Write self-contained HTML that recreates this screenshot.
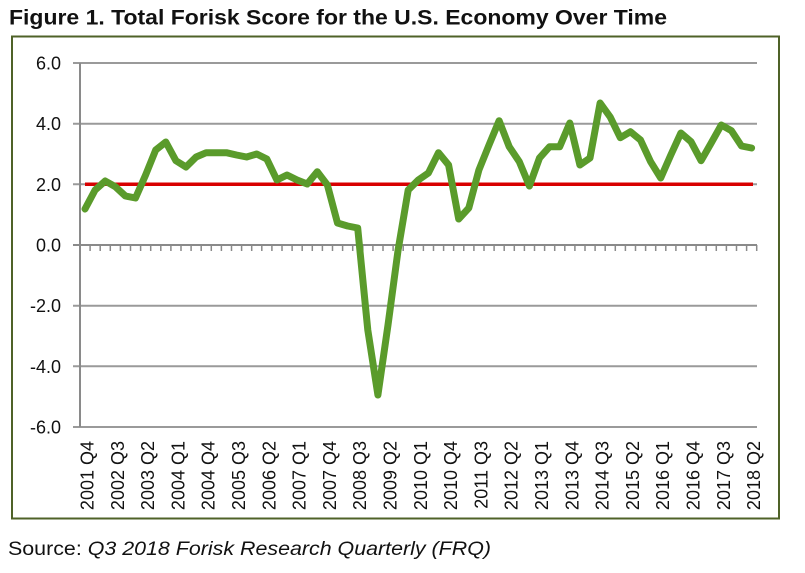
<!DOCTYPE html>
<html>
<head>
<meta charset="utf-8">
<style>
  html,body{margin:0;padding:0;background:#fff;}
  svg{display:block;}
</style>
</head>
<body>
<svg width="805" height="573" viewBox="0 0 805 573" xmlns="http://www.w3.org/2000/svg" font-family="'Liberation Sans', Arial, sans-serif">
  <rect x="0" y="0" width="805" height="573" fill="#fff"/>
  <text x="9" y="24.5" font-size="21" font-weight="bold" fill="#111" textLength="658" lengthAdjust="spacingAndGlyphs">Figure 1. Total Forisk Score for the U.S. Economy Over Time</text>

  <rect x="12" y="36.5" width="767" height="482" fill="#fff" stroke="#4f6228" stroke-width="2"/>

  <!-- gridlines -->
  <g stroke="#9a9a9a" stroke-width="2">
    <line x1="73" y1="63" x2="757" y2="63"/>
    <line x1="73" y1="123.7" x2="757" y2="123.7"/>
    <line x1="73" y1="184.3" x2="757" y2="184.3"/>
    <line x1="73" y1="305.7" x2="757" y2="305.7"/>
    <line x1="73" y1="366.3" x2="757" y2="366.3"/>
    <line x1="73" y1="427" x2="757" y2="427"/>
  </g>
  <!-- axes -->
  <g stroke="#8a8a8a" stroke-width="2">
    <line x1="80" y1="63" x2="80" y2="427"/>
    <line x1="73" y1="245" x2="757" y2="245"/>
  </g>
  <g stroke="#8a8a8a" stroke-width="1.5">
    <path d="M90.1 245v6M100.2 245v6M110.3 245v6M120.4 245v6M130.5 245v6M140.6 245v6M150.7 245v6M160.8 245v6M170.9 245v6M181 245v6M191.1 245v6M201.2 245v6M211.3 245v6M221.4 245v6M231.5 245v6M241.6 245v6M251.7 245v6M261.8 245v6M271.9 245v6M282 245v6M292.1 245v6M302.2 245v6M312.3 245v6M322.4 245v6M332.5 245v6M342.6 245v6M352.7 245v6M362.8 245v6M372.9 245v6M383 245v6M393.1 245v6M403.2 245v6M413.3 245v6M423.4 245v6M433.5 245v6M443.6 245v6M453.7 245v6M463.8 245v6M473.9 245v6M484 245v6M494.1 245v6M504.2 245v6M514.3 245v6M524.4 245v6M534.5 245v6M544.6 245v6M554.7 245v6M564.8 245v6M574.9 245v6M585 245v6M595.1 245v6M605.2 245v6M615.3 245v6M625.4 245v6M635.5 245v6M645.6 245v6M655.7 245v6M665.8 245v6M675.9 245v6M686 245v6M696.1 245v6M706.2 245v6M716.3 245v6M726.4 245v6M736.5 245v6M746.6 245v6M756.7 245v6"/>
  </g>

  <!-- y labels -->
  <g font-size="18" fill="#111" text-anchor="end">
    <text x="61" y="69.5">6.0</text>
    <text x="61" y="130.2">4.0</text>
    <text x="61" y="190.8">2.0</text>
    <text x="61" y="251.5">0.0</text>
    <text x="61" y="312.2">-2.0</text>
    <text x="61" y="372.8">-4.0</text>
    <text x="61" y="433.5">-6.0</text>
  </g>

  <!-- red reference line -->
  <line x1="85" y1="184.3" x2="753" y2="184.3" stroke="#d80000" stroke-width="3.5"/>

  <!-- series -->
  <polyline fill="none" stroke="#5a9b2b" stroke-width="7" stroke-linejoin="round" stroke-linecap="round"
    points="85,209 95.1,190 105.2,181 115.3,186.7 125.4,196 135.5,198 145.6,175 155.7,150 165.8,142 175.9,160.7 186,167 196.1,157 206.2,152.7 216.3,152.7 226.4,152.7 236.5,155 246.6,157 256.7,154 266.8,159 276.9,180 287,175 297.1,180 307.2,184 317.3,171.7 327.4,185 337.5,223 347.6,226 357.7,228 367.8,330 377.9,395 388,325 398.1,250 408.2,190 418.3,180 428.4,173 438.5,152.7 448.6,165 458.7,219 468.8,208 478.9,170 489,145 499.1,120.7 509.2,146.7 519.3,161.7 529.4,186 539.5,158 549.6,146.7 559.7,146.7 569.8,123 579.9,165 590,158 600.1,103 610.2,117 620.3,137.7 630.4,131.7 640.5,140 650.6,161.7 660.7,178 670.8,155 680.9,133 691,141.7 701.1,160.7 711.2,143 721.3,125 731.4,130.7 741.5,146 751.6,148"/>

  <!-- x labels -->
  <g font-size="18" fill="#111" text-anchor="end">
    <text transform="translate(93.5,441) rotate(-90)">2001 Q4</text>
    <text transform="translate(123.8,441) rotate(-90)">2002 Q3</text>
    <text transform="translate(154.1,441) rotate(-90)">2003 Q2</text>
    <text transform="translate(184.4,441) rotate(-90)">2004 Q1</text>
    <text transform="translate(214.7,441) rotate(-90)">2004 Q4</text>
    <text transform="translate(245,441) rotate(-90)">2005 Q3</text>
    <text transform="translate(275.3,441) rotate(-90)">2006 Q2</text>
    <text transform="translate(305.6,441) rotate(-90)">2007 Q1</text>
    <text transform="translate(335.9,441) rotate(-90)">2007 Q4</text>
    <text transform="translate(366.2,441) rotate(-90)">2008 Q3</text>
    <text transform="translate(396.5,441) rotate(-90)">2009 Q2</text>
    <text transform="translate(426.8,441) rotate(-90)">2010 Q1</text>
    <text transform="translate(457.1,441) rotate(-90)">2010 Q4</text>
    <text transform="translate(487.4,441) rotate(-90)">2011 Q3</text>
    <text transform="translate(517.7,441) rotate(-90)">2012 Q2</text>
    <text transform="translate(548,441) rotate(-90)">2013 Q1</text>
    <text transform="translate(578.3,441) rotate(-90)">2013 Q4</text>
    <text transform="translate(608.6,441) rotate(-90)">2014 Q3</text>
    <text transform="translate(638.9,441) rotate(-90)">2015 Q2</text>
    <text transform="translate(669.2,441) rotate(-90)">2016 Q1</text>
    <text transform="translate(699.5,441) rotate(-90)">2016 Q4</text>
    <text transform="translate(729.8,441) rotate(-90)">2017 Q3</text>
    <text transform="translate(760.1,441) rotate(-90)">2018 Q2</text>
  </g>

  <text x="8" y="555" font-size="19" fill="#111" textLength="483" lengthAdjust="spacingAndGlyphs">Source: <tspan font-style="italic">Q3 2018 Forisk Research Quarterly (FRQ)</tspan></text>
</svg>
</body>
</html>
